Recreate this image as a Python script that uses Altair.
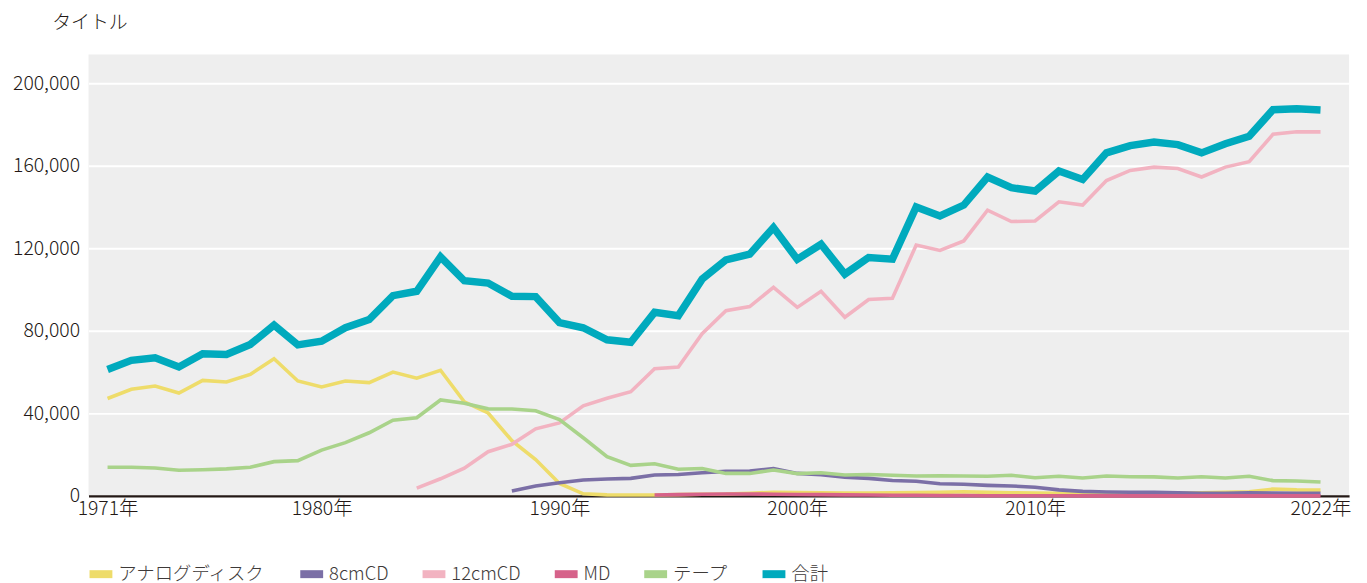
import altair as alt
import pandas as pd

years = list(range(1971, 2023))

analog = [47200, 51700, 53300, 49900, 56000, 55200, 58900, 66500, 55700, 52800,
          55700, 54900, 60000, 57100, 60900, 45600, 40200, 26800, 17600, 6000,
          1000, 500, 400, 400, 600, 800, 900, 1300, 1800, 1600,
          1500, 1400, 1400, 1500, 1600, 1700, 2000, 1700, 1500, 1400,
          1300, 1000, 1000, 1000, 1100, 1200, 1500, 1700, 2000, 3300,
          2900, 2800]

cd8 = [None] * 17 + [2400, 4800, 6400,
       7700, 8200, 8500, 10100, 10400, 11200, 11900, 12100, 13200, 10900,
       10300, 9000, 8500, 7500, 7100, 5900, 5600, 5100, 4800, 4200,
       2900, 2200, 1900, 1800, 1700, 1500, 1300, 1300, 1500, 1400,
       1300, 1300]

cd12 = [None] * 13 + [3800, 8300, 13400, 21400, 25000, 32500, 35400,
        43700, 47300, 50500, 61700, 62500, 78600, 89800, 91800, 101100, 91400,
        99200, 86600, 95200, 95800, 121600, 119000, 123600, 138500, 133000, 133300,
        142600, 141000, 152900, 157800, 159400, 158700, 154600, 159400, 162000, 175300,
        176500, 176500]

md = [None] * 23 + [400, 600, 800, 900, 900, 800, 700,
      600, 500, 400, 300, 300, 200, 200, 100, 100, 100,
      50, 0, 0, 0, 0, 0, 0, 0, 0, 0,
      0, 0]

tape = [13900, 13900, 13500, 12400, 12700, 13100, 13900, 16600, 17100, 22200,
        25800, 30600, 36700, 37900, 46500, 44900, 42200, 42100, 41300, 37000,
        28200, 19000, 14800, 15600, 12900, 13300, 10900, 10900, 12500, 10800,
        11200, 10100, 10400, 10000, 9600, 9800, 9600, 9500, 10000, 8800,
        9500, 8700, 9600, 9300, 9200, 8700, 9300, 8700, 9500, 7400,
        7200, 6700]

total = [61300, 65700, 67000, 62500, 68900, 68600, 73400, 82800, 73200, 75000,
         81500, 85500, 97100, 99200, 115900, 104300, 103200, 96800, 96600, 84000,
         81500, 75700, 74500, 89000, 87400, 105100, 114400, 117200, 130100, 114700,
         122000, 107500, 115600, 114800, 140100, 135700, 141000, 154600, 149400, 147800,
         157500, 153400, 166300, 169800, 171600, 170300, 166300, 170700, 174400, 187200,
         187700, 187100]

series_names = ["アナログディスク", "8cmCD", "12cmCD", "MD", "テープ", "合計"]
series_values = [analog, cd8, cd12, md, tape, total]
series_colors = ["#EEDC6A", "#7B6FA6", "#F2B3C1", "#D6628A", "#A9D38A", "#00AABD"]
series_widths = [3.6, 3.6, 3.6, 3.6, 3.6, 7.5]

x_ticks = [1971, 1980, 1990, 2000, 2010, 2022]
y_ticks = [0, 40000, 80000, 120000, 160000, 200000]

rows = []
for name, vals in zip(series_names, series_values):
    for yr, v in zip(years, vals):
        if v is not None:
            rows.append({"year": yr, "value": v, "series": name})
df = pd.DataFrame(rows)

FONT = "Noto Sans CJK JP"
TXT = "#231815"

color_scale = alt.Scale(domain=series_names, range=series_colors)

x_enc = alt.X("year:Q",
              scale=alt.Scale(domain=[1970.2, 2023.2], nice=False, zero=False),
              axis=alt.Axis(values=x_ticks, labelExpr="datum.value + '年'",
                            title=None, grid=False, ticks=False,
                            domain=True, domainColor=TXT, domainWidth=2.5,
                            labelFontSize=19.5, labelColor=TXT, labelPadding=4,
                            labelFont=FONT, labelFontWeight=300))
y_enc = alt.Y("value:Q",
              scale=alt.Scale(domain=[0, 214000], nice=False),
              axis=alt.Axis(values=y_ticks, format=",d", title="タイトル",
                            titleAngle=0, titleX=-37, titleY=-32,
                            titleAlign="left", titleBaseline="middle",
                            titleFontSize=19, titleFontWeight=300, titleColor=TXT,
                            titleFont=FONT,
                            grid=True, gridColor="#FFFFFF", gridWidth=2,
                            domain=False, ticks=False,
                            labelFontSize=19.5, labelColor=TXT, labelPadding=9,
                            labelFont=FONT, labelFontWeight=300))

layers = []
for name, w in zip(series_names, series_widths):
    layers.append(
        alt.Chart(df).transform_filter(alt.datum.series == name)
        .mark_line(strokeWidth=w, strokeJoin="miter", strokeCap="butt")
        .encode(
            x=x_enc,
            y=y_enc,
            color=alt.Color("series:N", scale=color_scale,
                            legend=alt.Legend(title=None, orient="none",
                                              direction="horizontal",
                                              legendX=-3, legendY=507,
                                              symbolType="stroke",
                                              symbolStrokeWidth=8,
                                              symbolSize=529,
                                              labelFontSize=18.5,
                                              labelFont=FONT,
                                              labelFontWeight=300,
                                              labelColor="#3E3A39",
                                              labelOffset=2,
                                              columnPadding=18,
                                              labelLimit=300))
        )
    )

chart = alt.layer(*layers).properties(
    width=1268, height=444,
    autosize=alt.AutoSizeParams(type="none"),
    padding={"left": 81, "top": 45, "right": 10, "bottom": 110},
).configure(font=FONT).configure_view(fill="#EEEEEE", stroke=None)

chart.save("out.html", embed_options={"renderer": "svg", "actions": False})
